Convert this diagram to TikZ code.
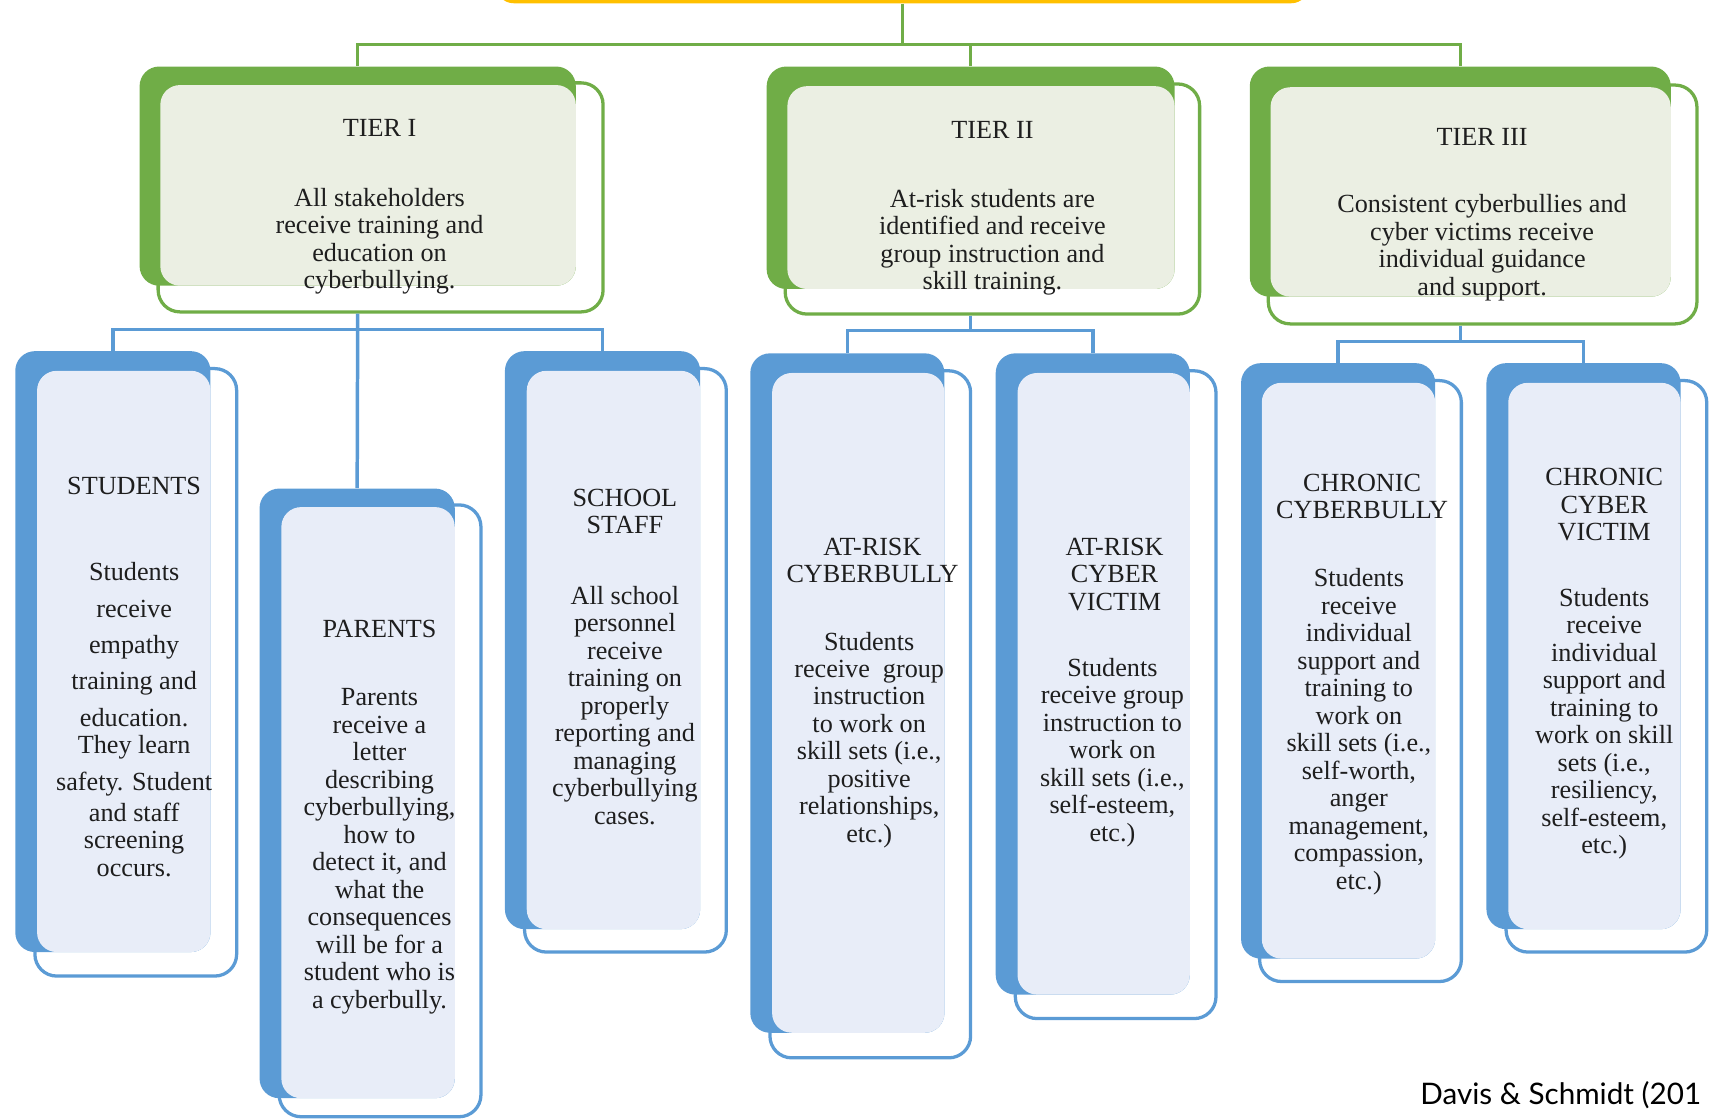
\documentclass[tikz,border=0pt]{standalone}
\usepackage{fontspec}
\setmainfont{Liberation Serif}
\newfontfamily\citefont{Lato}
\usetikzlibrary{fit}
\definecolor{gdk}{HTML}{70AD47}
\definecolor{glt}{HTML}{EBEFE3}
\definecolor{bdk}{HTML}{5B9BD5}
\definecolor{blt}{HTML}{E8EDF8}
\definecolor{yel}{HTML}{FFC000}
\definecolor{txtc}{HTML}{1E1E1E}
\begin{document}
\begin{tikzpicture}[x=0.5pt,y=-0.5pt,
  gdark/.style={fill=gdk, rounded corners=9pt, inner sep=0pt},
  glight/.style={fill=glt, rounded corners=9pt, inner sep=0pt},
  gout/.style={draw=gdk, line width=1.5pt, rounded corners=10pt, inner sep=0pt},
  bdark/.style={fill=bdk, rounded corners=9pt, inner sep=0pt},
  blight/.style={fill=blt, rounded corners=9pt, inner sep=0pt},
  bout/.style={draw=bdk, line width=1.5pt, rounded corners=10pt, inner sep=0pt},
  gline/.style={draw=gdk, line width=1.6pt},
  bline/.style={draw=bdk, line width=1.6pt},
  txt/.style={font=\rmfamily\fontsize{12}{12.6}\selectfont, align=center, inner sep=0pt, text=txtc},
]
\useasboundingbox (0,0) rectangle (1568,1026);
\clip (0,0) rectangle (1568,1026);

% top box (mostly off-canvas)
\node[fill=yel, rounded corners=8pt, inner sep=0pt, fit={(455,-40)(1200,3)}] (top) {};

% ---------- Tier boxes ----------
\node[gdark, fit={(128,61)(528,262)}] (t1d) {};
\node[glight, fit={(147,78)(528,262)}] (t1l) {};
\node[gout, fit={(145,76)(553,286)}] (t1o) {};
\node[txt, anchor=base] (t1h) at (348,125) {TIER I};
\node[txt, anchor=north] (t1b) at (348,172) {All stakeholders\\ receive training and\\ education on\\ cyberbullying.};

\node[gdark, fit={(703,61)(1077,265)}] (t2d) {};
\node[glight, fit={(722,79)(1077,265)}] (t2l) {};
\node[gout, fit={(720,77)(1100,288)}] (t2o) {};
\node[txt, anchor=base] (t2h) at (910,127) {TIER II};
\node[txt, anchor=north] (t2b) at (910,173) {At-risk students are\\ identified and receive\\ group instruction and\\ skill training.};

\node[gdark, fit={(1146,61)(1532,272)}] (t3d) {};
\node[glight, fit={(1165,80)(1532,272)}] (t3l) {};
\node[gout, fit={(1163,78)(1556,297)}] (t3o) {};
\node[txt, anchor=base] (t3h) at (1359,133) {TIER III};
\node[txt, anchor=north] (t3b) at (1359,178) {Consistent cyberbullies and\\ cyber victims receive\\ individual guidance\\ and support.};

% ---------- Blue boxes ----------
\node[bdark, fit={(14,322)(193,873)}] (sd) {};
\node[blight, fit={(34,340)(193,873)}] (sl) {};
\node[bout, fit={(32,338)(217,895)}] (so) {};
\node[txt, anchor=base] (sh) at (123,453) {STUDENTS};
\node[txt, anchor=north] (sb) at (123,515) {Students\\[4.4pt] receive\\[3.9pt] empathy\\[3.9pt] training and\\[4.4pt] education.\\ They learn\\[4.4pt] safety. Student\\[1.4pt] and staff\\ screening\\ occurs.};

\node[bdark, fit={(238,448)(417,1007)}] (pd) {};
\node[blight, fit={(258,465)(417,1007)}] (pl) {};
\node[bout, fit={(256,463)(441,1024)}] (po) {};
\node[txt, anchor=base] (ph) at (348,585) {PARENTS};
\node[txt, anchor=north] (pb) at (348,631) {Parents\\ receive a\\ letter\\ describing\\ cyberbullying,\\ how to\\ detect it, and\\ what the\\ consequences\\ will be for a\\ student who is\\ a cyberbully.};

\node[bdark, fit={(463,322)(642,852)}] (std) {};
\node[blight, fit={(483,340)(642,852)}] (stl) {};
\node[bout, fit={(481,338)(666,873)}] (sto) {};
\node[txt, anchor=north] (sth) at (573,448) {SCHOOL\\ STAFF};
\node[txt, anchor=north] (stb) at (573,537) {All school\\ personnel\\ receive\\ training on\\ properly\\ reporting and\\ managing\\ cyberbullying\\ cases.};

\node[bdark, fit={(688,324)(866,947)}] (acd) {};
\node[blight, fit={(708,342)(866,947)}] (acl) {};
\node[bout, fit={(706,340)(890,970)}] (aco) {};
\node[txt, anchor=north] (ach) at (800,493) {AT-RISK\\ CYBERBULLY};
\node[txt, anchor=north] (acb) at (797,579) {Students\\ receive\ \ group\\ instruction\\ to work on\\ skill sets (i.e.,\\ positive\\ relationships,\\ etc.)};

\node[bdark, fit={(913,324)(1091,912)}] (avd) {};
\node[blight, fit={(933,342)(1091,912)}] (avl) {};
\node[bout, fit={(931,340)(1115,934)}] (avo) {};
\node[txt, anchor=north] (avh) at (1022,493) {AT-RISK\\ CYBER\\ VICTIM};
\node[txt, anchor=north] (avb) at (1020,603) {Students\\ receive group\\ instruction to\\ work on\\ skill sets (i.e.,\\ self-esteem,\\ etc.)};

\node[bdark, fit={(1138,333)(1316,879)}] (cbd) {};
\node[blight, fit={(1157,351)(1316,879)}] (cbl) {};
\node[bout, fit={(1155,349)(1340,900)}] (cbo) {};
\node[txt, anchor=north] (cbh) at (1249,434) {CHRONIC\\ CYBERBULLY};
\node[txt, anchor=north] (cbb) at (1246,521) {Students\\ receive\\ individual\\ support and\\ training to\\ work on\\ skill sets (i.e.,\\ self-worth,\\ anger\\ management,\\ compassion,\\ etc.)};

\node[bdark, fit={(1363,333)(1541,852)}] (cvd) {};
\node[blight, fit={(1383,351)(1541,852)}] (cvl) {};
\node[bout, fit={(1381,349)(1565,873)}] (cvo) {};
\node[txt, anchor=north] (cvh) at (1471,429) {CHRONIC\\ CYBER\\ VICTIM};
\node[txt, anchor=north] (cvb) at (1471,539) {Students\\ receive\\ individual\\ support and\\ training to\\ work on skill\\ sets (i.e.,\\ resiliency,\\ self-esteem,\\ etc.)};

% ---------- connectors ----------
\coordinate (g) at (0,41);
\draw[gline] (top.south) -- (top.south |- g);
\draw[gline] (t1d.north) -- (t1d.north |- g) -- (t3d.north |- g) -- (t3d.north);
\draw[gline] (t2d.north) -- (t2d.north |- g);

\coordinate (b1) at (0,302);
\draw[bline] (t1d.south |- t1o.south) -- (pd.north);
\draw[bline] (sd.north) -- (sd.north |- b1) -- (std.north |- b1) -- (std.north);

\coordinate (b2) at (0,303);
\draw[bline] (t2d.south |- t2o.south) -- (t2d.south |- b2);
\draw[bline] (acd.north) -- (acd.north |- b2) -- (avd.north |- b2) -- (avd.north);

\coordinate (b3) at (0,313);
\draw[bline] (t3d.south |- t3o.south) -- (t3d.south |- b3);
\draw[bline] (cbd.north) -- (cbd.north |- b3) -- (cvd.north |- b3) -- (cvd.north);

% citation
\node[font=\citefont\fontsize{13.6}{16}\selectfont, anchor=west, inner sep=0pt, text=black] (cite) at (1302,1004) {Davis \& Schmidt (201};
\end{tikzpicture}
\end{document}
